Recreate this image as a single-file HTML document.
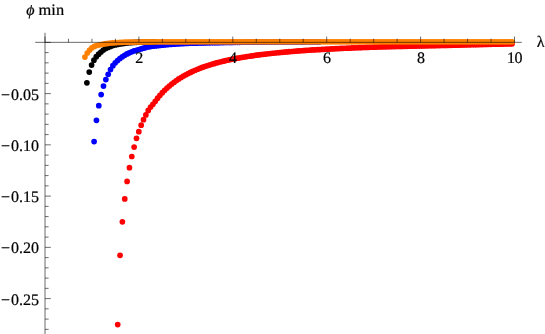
<!DOCTYPE html>
<html><head><meta charset="utf-8"><title>plot</title>
<style>
html,body{margin:0;padding:0;background:#fff;}
body{width:545px;height:334px;overflow:hidden;font-family:"Liberation Serif",serif;}
svg{display:block;position:absolute;left:0;top:0;}
svg.t{will-change:transform;}
</style></head><body>
<svg width="545" height="334" viewBox="0 0 545 334">
<rect width="545" height="334" fill="#fff"/>
<g fill="#ff0000"><circle cx="117.70" cy="324.60" r="2.85"/><circle cx="120.05" cy="255.30" r="2.85"/><circle cx="122.39" cy="221.80" r="2.85"/><circle cx="124.74" cy="198.90" r="2.85"/><circle cx="127.09" cy="181.40" r="2.85"/><circle cx="129.44" cy="167.70" r="2.85"/><circle cx="131.78" cy="156.50" r="2.85"/><circle cx="134.13" cy="147.10" r="2.85"/><circle cx="136.48" cy="138.30" r="2.85"/><circle cx="138.83" cy="131.70" r="2.85"/><circle cx="141.17" cy="125.20" r="2.85"/><circle cx="143.52" cy="119.70" r="2.85"/><circle cx="145.87" cy="114.90" r="2.85"/><circle cx="148.22" cy="110.40" r="2.85"/><circle cx="150.56" cy="107.12" r="2.85"/><circle cx="152.91" cy="104.30" r="2.85"/><circle cx="155.26" cy="101.30" r="2.85"/><circle cx="157.61" cy="98.20" r="2.85"/><circle cx="159.95" cy="95.30" r="2.85"/><circle cx="162.30" cy="92.69" r="2.85"/><circle cx="164.65" cy="90.29" r="2.85"/><circle cx="167.00" cy="88.05" r="2.85"/><circle cx="169.34" cy="85.98" r="2.85"/><circle cx="171.69" cy="84.04" r="2.85"/><circle cx="174.04" cy="82.24" r="2.85"/><circle cx="176.39" cy="80.55" r="2.85"/><circle cx="178.73" cy="78.97" r="2.85"/><circle cx="181.08" cy="77.49" r="2.85"/><circle cx="183.43" cy="76.10" r="2.85"/><circle cx="185.78" cy="74.79" r="2.85"/><circle cx="188.12" cy="73.55" r="2.85"/><circle cx="190.47" cy="72.39" r="2.85"/><circle cx="192.82" cy="71.29" r="2.85"/><circle cx="195.17" cy="70.25" r="2.85"/><circle cx="197.51" cy="69.26" r="2.85"/><circle cx="199.86" cy="68.33" r="2.85"/><circle cx="202.21" cy="67.44" r="2.85"/><circle cx="204.56" cy="66.60" r="2.85"/><circle cx="206.90" cy="65.80" r="2.85"/><circle cx="209.25" cy="65.04" r="2.85"/><circle cx="211.60" cy="64.32" r="2.85"/><circle cx="213.95" cy="63.63" r="2.85"/><circle cx="216.29" cy="62.97" r="2.85"/><circle cx="218.64" cy="62.34" r="2.85"/><circle cx="220.99" cy="61.74" r="2.85"/><circle cx="223.34" cy="61.17" r="2.85"/><circle cx="225.68" cy="60.62" r="2.85"/><circle cx="228.03" cy="60.09" r="2.85"/><circle cx="230.38" cy="59.59" r="2.85"/><circle cx="232.73" cy="59.11" r="2.85"/><circle cx="235.07" cy="58.65" r="2.85"/><circle cx="237.42" cy="58.20" r="2.85"/><circle cx="239.77" cy="57.78" r="2.85"/><circle cx="242.12" cy="57.37" r="2.85"/><circle cx="244.46" cy="56.98" r="2.85"/><circle cx="246.81" cy="56.60" r="2.85"/><circle cx="249.16" cy="56.23" r="2.85"/><circle cx="251.51" cy="55.88" r="2.85"/><circle cx="253.85" cy="55.55" r="2.85"/><circle cx="256.20" cy="55.22" r="2.85"/><circle cx="258.55" cy="54.91" r="2.85"/><circle cx="260.90" cy="54.60" r="2.85"/><circle cx="263.24" cy="54.31" r="2.85"/><circle cx="265.59" cy="54.03" r="2.85"/><circle cx="267.94" cy="53.76" r="2.85"/><circle cx="270.29" cy="53.50" r="2.85"/><circle cx="272.63" cy="53.25" r="2.85"/><circle cx="274.98" cy="53.00" r="2.85"/><circle cx="277.33" cy="52.76" r="2.85"/><circle cx="279.68" cy="52.53" r="2.85"/><circle cx="282.03" cy="52.31" r="2.85"/><circle cx="284.37" cy="52.09" r="2.85"/><circle cx="286.72" cy="51.89" r="2.85"/><circle cx="289.07" cy="51.68" r="2.85"/><circle cx="291.42" cy="51.49" r="2.85"/><circle cx="293.76" cy="51.30" r="2.85"/><circle cx="296.11" cy="51.12" r="2.85"/><circle cx="298.46" cy="50.94" r="2.85"/><circle cx="300.81" cy="50.76" r="2.85"/><circle cx="303.15" cy="50.60" r="2.85"/><circle cx="305.50" cy="50.43" r="2.85"/><circle cx="307.85" cy="50.27" r="2.85"/><circle cx="310.20" cy="50.12" r="2.85"/><circle cx="312.54" cy="49.97" r="2.85"/><circle cx="314.89" cy="49.82" r="2.85"/><circle cx="317.24" cy="49.68" r="2.85"/><circle cx="319.59" cy="49.54" r="2.85"/><circle cx="321.93" cy="49.41" r="2.85"/><circle cx="324.28" cy="49.28" r="2.85"/><circle cx="326.63" cy="49.15" r="2.85"/><circle cx="328.98" cy="49.03" r="2.85"/><circle cx="331.32" cy="48.91" r="2.85"/><circle cx="333.67" cy="48.79" r="2.85"/><circle cx="336.02" cy="48.68" r="2.85"/><circle cx="338.37" cy="48.57" r="2.85"/><circle cx="340.71" cy="48.46" r="2.85"/><circle cx="343.06" cy="48.35" r="2.85"/><circle cx="345.41" cy="48.25" r="2.85"/><circle cx="347.76" cy="48.15" r="2.85"/><circle cx="350.10" cy="48.05" r="2.85"/><circle cx="352.45" cy="47.95" r="2.85"/><circle cx="354.80" cy="47.85" r="2.85"/><circle cx="357.15" cy="47.75" r="2.85"/><circle cx="359.49" cy="47.66" r="2.85"/><circle cx="361.84" cy="47.57" r="2.85"/><circle cx="364.19" cy="47.48" r="2.85"/><circle cx="366.54" cy="47.40" r="2.85"/><circle cx="368.88" cy="47.31" r="2.85"/><circle cx="371.23" cy="47.23" r="2.85"/><circle cx="373.58" cy="47.15" r="2.85"/><circle cx="375.93" cy="47.08" r="2.85"/><circle cx="378.27" cy="47.00" r="2.85"/><circle cx="380.62" cy="46.93" r="2.85"/><circle cx="382.97" cy="46.86" r="2.85"/><circle cx="385.32" cy="46.80" r="2.85"/><circle cx="387.66" cy="46.74" r="2.85"/><circle cx="390.01" cy="46.68" r="2.85"/><circle cx="392.36" cy="46.62" r="2.85"/><circle cx="394.71" cy="46.56" r="2.85"/><circle cx="397.05" cy="46.50" r="2.85"/><circle cx="399.40" cy="46.45" r="2.85"/><circle cx="401.75" cy="46.39" r="2.85"/><circle cx="404.10" cy="46.34" r="2.85"/><circle cx="406.44" cy="46.28" r="2.85"/><circle cx="408.79" cy="46.23" r="2.85"/><circle cx="411.14" cy="46.17" r="2.85"/><circle cx="413.49" cy="46.12" r="2.85"/><circle cx="415.83" cy="46.07" r="2.85"/><circle cx="418.18" cy="46.02" r="2.85"/><circle cx="420.53" cy="45.97" r="2.85"/><circle cx="422.88" cy="45.92" r="2.85"/><circle cx="425.22" cy="45.87" r="2.85"/><circle cx="427.57" cy="45.82" r="2.85"/><circle cx="429.92" cy="45.77" r="2.85"/><circle cx="432.27" cy="45.72" r="2.85"/><circle cx="434.61" cy="45.67" r="2.85"/><circle cx="436.96" cy="45.62" r="2.85"/><circle cx="439.31" cy="45.57" r="2.85"/><circle cx="441.66" cy="45.51" r="2.85"/><circle cx="444.00" cy="45.45" r="2.85"/><circle cx="446.35" cy="45.40" r="2.85"/><circle cx="448.70" cy="45.34" r="2.85"/><circle cx="451.05" cy="45.28" r="2.85"/><circle cx="453.39" cy="45.22" r="2.85"/><circle cx="455.74" cy="45.16" r="2.85"/><circle cx="458.09" cy="45.10" r="2.85"/><circle cx="460.44" cy="45.04" r="2.85"/><circle cx="462.78" cy="44.98" r="2.85"/><circle cx="465.13" cy="44.92" r="2.85"/><circle cx="467.48" cy="44.87" r="2.85"/><circle cx="469.83" cy="44.81" r="2.85"/><circle cx="472.17" cy="44.75" r="2.85"/><circle cx="474.52" cy="44.70" r="2.85"/><circle cx="476.87" cy="44.64" r="2.85"/><circle cx="479.22" cy="44.59" r="2.85"/><circle cx="481.56" cy="44.53" r="2.85"/><circle cx="483.91" cy="44.48" r="2.85"/><circle cx="486.26" cy="44.42" r="2.85"/><circle cx="488.61" cy="44.37" r="2.85"/><circle cx="490.95" cy="44.31" r="2.85"/><circle cx="493.30" cy="44.26" r="2.85"/><circle cx="495.65" cy="44.21" r="2.85"/><circle cx="498.00" cy="44.15" r="2.85"/><circle cx="500.34" cy="44.10" r="2.85"/><circle cx="502.69" cy="44.05" r="2.85"/><circle cx="505.04" cy="44.00" r="2.85"/><circle cx="507.39" cy="43.95" r="2.85"/><circle cx="509.73" cy="43.90" r="2.85"/><circle cx="512.08" cy="43.85" r="2.85"/></g>
<g fill="#0000ff"><circle cx="94.10" cy="141.60" r="2.85"/><circle cx="96.45" cy="120.30" r="2.85"/><circle cx="98.79" cy="105.70" r="2.85"/><circle cx="101.14" cy="94.60" r="2.85"/><circle cx="103.49" cy="86.10" r="2.85"/><circle cx="105.84" cy="79.60" r="2.85"/><circle cx="108.18" cy="74.30" r="2.85"/><circle cx="110.53" cy="69.50" r="2.85"/><circle cx="112.88" cy="65.70" r="2.85"/><circle cx="115.23" cy="62.84" r="2.85"/><circle cx="117.57" cy="60.48" r="2.85"/><circle cx="119.92" cy="58.50" r="2.85"/><circle cx="122.27" cy="56.79" r="2.85"/><circle cx="124.62" cy="55.28" r="2.85"/><circle cx="126.96" cy="53.97" r="2.85"/><circle cx="129.31" cy="52.83" r="2.85"/><circle cx="131.66" cy="51.83" r="2.85"/><circle cx="134.01" cy="50.97" r="2.85"/><circle cx="136.35" cy="50.23" r="2.85"/><circle cx="138.70" cy="49.55" r="2.85"/><circle cx="141.05" cy="48.89" r="2.85"/><circle cx="143.40" cy="48.20" r="2.85"/><circle cx="145.74" cy="47.54" r="2.85"/><circle cx="148.09" cy="46.97" r="2.85"/><circle cx="150.44" cy="46.53" r="2.85"/><circle cx="152.79" cy="46.20" r="2.85"/><circle cx="155.13" cy="45.92" r="2.85"/><circle cx="157.48" cy="45.66" r="2.85"/><circle cx="159.83" cy="45.40" r="2.85"/><circle cx="162.18" cy="45.17" r="2.85"/><circle cx="164.52" cy="44.94" r="2.85"/><circle cx="166.87" cy="44.73" r="2.85"/><circle cx="169.22" cy="44.52" r="2.85"/><circle cx="171.57" cy="44.33" r="2.85"/><circle cx="173.91" cy="44.15" r="2.85"/><circle cx="176.26" cy="43.99" r="2.85"/><circle cx="178.61" cy="43.83" r="2.85"/><circle cx="180.96" cy="43.70" r="2.85"/><circle cx="183.30" cy="43.57" r="2.85"/><circle cx="185.65" cy="43.46" r="2.85"/><circle cx="188.00" cy="43.36" r="2.85"/><circle cx="190.35" cy="43.27" r="2.85"/><circle cx="192.69" cy="43.20" r="2.85"/><circle cx="195.04" cy="43.13" r="2.85"/><circle cx="197.39" cy="43.07" r="2.85"/><circle cx="199.74" cy="43.01" r="2.85"/><circle cx="202.08" cy="42.96" r="2.85"/><circle cx="204.43" cy="42.91" r="2.85"/><circle cx="206.78" cy="42.86" r="2.85"/><circle cx="209.13" cy="42.81" r="2.85"/><circle cx="211.47" cy="42.77" r="2.85"/><circle cx="213.82" cy="42.72" r="2.85"/><circle cx="216.17" cy="42.68" r="2.85"/><circle cx="218.52" cy="42.64" r="2.85"/><circle cx="220.86" cy="42.60" r="2.85"/><circle cx="223.21" cy="42.56" r="2.85"/><circle cx="225.56" cy="42.52" r="2.85"/><circle cx="227.91" cy="42.48" r="2.85"/><circle cx="230.25" cy="42.45" r="2.85"/><circle cx="232.60" cy="42.41" r="2.85"/><circle cx="234.95" cy="42.37" r="2.85"/><circle cx="237.30" cy="42.34" r="2.85"/><circle cx="239.64" cy="42.30" r="2.85"/><circle cx="241.99" cy="42.27" r="2.85"/><circle cx="244.34" cy="42.24" r="2.85"/><circle cx="246.69" cy="42.21" r="2.85"/><circle cx="249.03" cy="42.18" r="2.85"/><circle cx="251.38" cy="42.16" r="2.85"/><circle cx="253.73" cy="42.13" r="2.85"/><circle cx="256.08" cy="42.11" r="2.85"/><circle cx="258.42" cy="42.08" r="2.85"/><circle cx="260.77" cy="42.06" r="2.85"/><circle cx="263.12" cy="42.04" r="2.85"/><circle cx="265.47" cy="42.03" r="2.85"/><circle cx="267.81" cy="42.01" r="2.85"/><circle cx="270.16" cy="42.00" r="2.85"/><circle cx="272.51" cy="41.99" r="2.85"/><circle cx="274.86" cy="41.97" r="2.85"/><circle cx="277.20" cy="41.96" r="2.85"/><circle cx="279.55" cy="41.95" r="2.85"/><circle cx="281.90" cy="41.94" r="2.85"/><circle cx="284.25" cy="41.93" r="2.85"/><circle cx="286.60" cy="41.93" r="2.85"/><circle cx="288.94" cy="41.92" r="2.85"/><circle cx="291.29" cy="41.91" r="2.85"/><circle cx="293.64" cy="41.90" r="2.85"/><circle cx="295.99" cy="41.90" r="2.85"/><circle cx="298.33" cy="41.89" r="2.85"/><circle cx="300.68" cy="41.88" r="2.85"/><circle cx="303.03" cy="41.88" r="2.85"/><circle cx="305.38" cy="41.87" r="2.85"/><circle cx="307.72" cy="41.87" r="2.85"/><circle cx="310.07" cy="41.86" r="2.85"/><circle cx="312.42" cy="41.86" r="2.85"/><circle cx="314.77" cy="41.86" r="2.85"/><circle cx="317.11" cy="41.85" r="2.85"/><circle cx="319.46" cy="41.85" r="2.85"/></g>
<g fill="#000000"><circle cx="86.90" cy="82.80" r="2.85"/><circle cx="89.25" cy="72.10" r="2.85"/><circle cx="91.59" cy="65.10" r="2.85"/><circle cx="93.94" cy="60.20" r="2.85"/><circle cx="96.29" cy="56.70" r="2.85"/><circle cx="98.64" cy="54.20" r="2.85"/><circle cx="100.98" cy="52.01" r="2.85"/><circle cx="103.33" cy="49.98" r="2.85"/><circle cx="105.68" cy="48.51" r="2.85"/><circle cx="108.03" cy="47.39" r="2.85"/><circle cx="110.37" cy="46.40" r="2.85"/><circle cx="112.72" cy="45.57" r="2.85"/><circle cx="115.07" cy="44.93" r="2.85"/><circle cx="117.42" cy="44.42" r="2.85"/><circle cx="119.76" cy="44.00" r="2.85"/><circle cx="122.11" cy="43.63" r="2.85"/><circle cx="124.46" cy="43.29" r="2.85"/><circle cx="126.81" cy="42.97" r="2.85"/><circle cx="129.15" cy="42.71" r="2.85"/><circle cx="131.50" cy="42.53" r="2.85"/><circle cx="133.85" cy="42.40" r="2.85"/><circle cx="136.20" cy="42.30" r="2.85"/><circle cx="138.54" cy="42.22" r="2.85"/><circle cx="140.89" cy="42.16" r="2.85"/><circle cx="143.24" cy="42.10" r="2.85"/><circle cx="145.59" cy="42.06" r="2.85"/><circle cx="147.93" cy="42.03" r="2.85"/><circle cx="150.28" cy="42.00" r="2.85"/><circle cx="152.63" cy="41.97" r="2.85"/><circle cx="154.98" cy="41.95" r="2.85"/></g>
<g fill="#ff8000"><circle cx="84.90" cy="57.10" r="2.85"/><circle cx="87.25" cy="53.00" r="2.85"/><circle cx="89.59" cy="50.10" r="2.85"/><circle cx="91.94" cy="47.80" r="2.85"/><circle cx="94.29" cy="46.38" r="2.85"/><circle cx="96.64" cy="45.52" r="2.85"/><circle cx="98.98" cy="45.01" r="2.85"/><circle cx="101.33" cy="44.51" r="2.85"/><circle cx="103.68" cy="44.04" r="2.85"/><circle cx="106.03" cy="43.63" r="2.85"/><circle cx="108.37" cy="43.29" r="2.85"/><circle cx="110.72" cy="43.02" r="2.85"/><circle cx="113.07" cy="42.81" r="2.85"/><circle cx="115.42" cy="42.64" r="2.85"/><circle cx="117.76" cy="42.50" r="2.85"/><circle cx="120.11" cy="42.39" r="2.85"/><circle cx="122.46" cy="42.30" r="2.85"/><circle cx="124.81" cy="42.22" r="2.85"/><circle cx="127.15" cy="42.16" r="2.85"/><circle cx="129.50" cy="42.11" r="2.85"/><circle cx="131.85" cy="42.07" r="2.85"/><circle cx="134.20" cy="42.03" r="2.85"/><circle cx="136.54" cy="42.01" r="2.85"/><circle cx="138.89" cy="41.98" r="2.85"/><circle cx="141.24" cy="41.96" r="2.85"/><circle cx="143.59" cy="41.94" r="2.85"/><circle cx="145.93" cy="41.92" r="2.85"/><circle cx="148.28" cy="41.91" r="2.85"/><circle cx="150.63" cy="41.89" r="2.85"/><circle cx="152.98" cy="41.88" r="2.85"/><circle cx="155.32" cy="41.87" r="2.85"/><circle cx="157.67" cy="41.86" r="2.85"/><circle cx="160.02" cy="41.85" r="2.85"/><circle cx="162.37" cy="41.84" r="2.85"/><circle cx="164.71" cy="41.83" r="2.85"/><circle cx="167.06" cy="41.82" r="2.85"/><circle cx="169.41" cy="41.81" r="2.85"/><circle cx="171.76" cy="41.81" r="2.85"/><circle cx="174.10" cy="41.80" r="2.85"/><circle cx="176.45" cy="41.79" r="2.85"/><circle cx="178.80" cy="41.79" r="2.85"/><circle cx="181.15" cy="41.78" r="2.85"/><circle cx="183.49" cy="41.78" r="2.85"/><circle cx="185.84" cy="41.78" r="2.85"/><circle cx="188.19" cy="41.78" r="2.85"/><circle cx="190.54" cy="41.77" r="2.85"/><circle cx="192.88" cy="41.77" r="2.85"/><circle cx="195.23" cy="41.77" r="2.85"/><circle cx="197.58" cy="41.77" r="2.85"/><circle cx="199.93" cy="41.77" r="2.85"/><circle cx="202.27" cy="41.77" r="2.85"/><circle cx="204.62" cy="41.77" r="2.85"/><circle cx="206.97" cy="41.77" r="2.85"/><circle cx="209.32" cy="41.77" r="2.85"/><circle cx="211.66" cy="41.77" r="2.85"/><circle cx="214.01" cy="41.77" r="2.85"/><circle cx="216.36" cy="41.77" r="2.85"/><circle cx="218.71" cy="41.77" r="2.85"/><circle cx="221.05" cy="41.77" r="2.85"/><circle cx="223.40" cy="41.77" r="2.85"/><circle cx="225.75" cy="41.77" r="2.85"/><circle cx="228.10" cy="41.77" r="2.85"/><circle cx="230.44" cy="41.77" r="2.85"/><circle cx="232.79" cy="41.77" r="2.85"/><circle cx="235.14" cy="41.77" r="2.85"/><circle cx="237.49" cy="41.77" r="2.85"/><circle cx="239.83" cy="41.77" r="2.85"/><circle cx="242.18" cy="41.77" r="2.85"/><circle cx="244.53" cy="41.77" r="2.85"/><circle cx="246.88" cy="41.77" r="2.85"/><circle cx="249.22" cy="41.77" r="2.85"/><circle cx="251.57" cy="41.77" r="2.85"/><circle cx="253.92" cy="41.77" r="2.85"/><circle cx="256.27" cy="41.77" r="2.85"/><circle cx="258.61" cy="41.77" r="2.85"/><circle cx="260.96" cy="41.77" r="2.85"/><circle cx="263.31" cy="41.77" r="2.85"/><circle cx="265.66" cy="41.77" r="2.85"/><circle cx="268.00" cy="41.77" r="2.85"/><circle cx="270.35" cy="41.77" r="2.85"/><circle cx="272.70" cy="41.77" r="2.85"/><circle cx="275.05" cy="41.77" r="2.85"/><circle cx="277.39" cy="41.77" r="2.85"/><circle cx="279.74" cy="41.77" r="2.85"/><circle cx="282.09" cy="41.77" r="2.85"/><circle cx="284.44" cy="41.77" r="2.85"/><circle cx="286.79" cy="41.77" r="2.85"/><circle cx="289.13" cy="41.77" r="2.85"/><circle cx="291.48" cy="41.77" r="2.85"/><circle cx="293.83" cy="41.77" r="2.85"/><circle cx="296.18" cy="41.77" r="2.85"/><circle cx="298.52" cy="41.77" r="2.85"/><circle cx="300.87" cy="41.77" r="2.85"/><circle cx="303.22" cy="41.77" r="2.85"/><circle cx="305.57" cy="41.77" r="2.85"/><circle cx="307.91" cy="41.77" r="2.85"/><circle cx="310.26" cy="41.77" r="2.85"/><circle cx="312.61" cy="41.77" r="2.85"/><circle cx="314.96" cy="41.77" r="2.85"/><circle cx="317.30" cy="41.77" r="2.85"/><circle cx="319.65" cy="41.77" r="2.85"/><circle cx="322.00" cy="41.77" r="2.85"/><circle cx="324.35" cy="41.77" r="2.85"/><circle cx="326.69" cy="41.77" r="2.85"/><circle cx="329.04" cy="41.77" r="2.85"/><circle cx="331.39" cy="41.77" r="2.85"/><circle cx="333.74" cy="41.77" r="2.85"/><circle cx="336.08" cy="41.77" r="2.85"/><circle cx="338.43" cy="41.77" r="2.85"/><circle cx="340.78" cy="41.77" r="2.85"/><circle cx="343.13" cy="41.77" r="2.85"/><circle cx="345.47" cy="41.77" r="2.85"/><circle cx="347.82" cy="41.77" r="2.85"/><circle cx="350.17" cy="41.77" r="2.85"/><circle cx="352.52" cy="41.77" r="2.85"/><circle cx="354.86" cy="41.77" r="2.85"/><circle cx="357.21" cy="41.77" r="2.85"/><circle cx="359.56" cy="41.77" r="2.85"/><circle cx="361.91" cy="41.77" r="2.85"/><circle cx="364.25" cy="41.77" r="2.85"/><circle cx="366.60" cy="41.77" r="2.85"/><circle cx="368.95" cy="41.77" r="2.85"/><circle cx="371.30" cy="41.77" r="2.85"/><circle cx="373.64" cy="41.77" r="2.85"/><circle cx="375.99" cy="41.77" r="2.85"/><circle cx="378.34" cy="41.77" r="2.85"/><circle cx="380.69" cy="41.77" r="2.85"/><circle cx="383.03" cy="41.77" r="2.85"/><circle cx="385.38" cy="41.77" r="2.85"/><circle cx="387.73" cy="41.77" r="2.85"/><circle cx="390.08" cy="41.77" r="2.85"/><circle cx="392.42" cy="41.77" r="2.85"/><circle cx="394.77" cy="41.77" r="2.85"/><circle cx="397.12" cy="41.77" r="2.85"/><circle cx="399.47" cy="41.77" r="2.85"/><circle cx="401.81" cy="41.77" r="2.85"/><circle cx="404.16" cy="41.77" r="2.85"/><circle cx="406.51" cy="41.77" r="2.85"/><circle cx="408.86" cy="41.77" r="2.85"/><circle cx="411.20" cy="41.77" r="2.85"/><circle cx="413.55" cy="41.77" r="2.85"/><circle cx="415.90" cy="41.77" r="2.85"/><circle cx="418.25" cy="41.77" r="2.85"/><circle cx="420.59" cy="41.77" r="2.85"/><circle cx="422.94" cy="41.77" r="2.85"/><circle cx="425.29" cy="41.77" r="2.85"/><circle cx="427.64" cy="41.77" r="2.85"/><circle cx="429.98" cy="41.77" r="2.85"/><circle cx="432.33" cy="41.77" r="2.85"/><circle cx="434.68" cy="41.77" r="2.85"/><circle cx="437.03" cy="41.77" r="2.85"/><circle cx="439.37" cy="41.77" r="2.85"/><circle cx="441.72" cy="41.77" r="2.85"/><circle cx="444.07" cy="41.77" r="2.85"/><circle cx="446.42" cy="41.77" r="2.85"/><circle cx="448.76" cy="41.77" r="2.85"/><circle cx="451.11" cy="41.77" r="2.85"/><circle cx="453.46" cy="41.77" r="2.85"/><circle cx="455.81" cy="41.77" r="2.85"/><circle cx="458.15" cy="41.77" r="2.85"/><circle cx="460.50" cy="41.77" r="2.85"/><circle cx="462.85" cy="41.77" r="2.85"/><circle cx="465.20" cy="41.77" r="2.85"/><circle cx="467.54" cy="41.77" r="2.85"/><circle cx="469.89" cy="41.77" r="2.85"/><circle cx="472.24" cy="41.77" r="2.85"/><circle cx="474.59" cy="41.77" r="2.85"/><circle cx="476.93" cy="41.77" r="2.85"/><circle cx="479.28" cy="41.77" r="2.85"/><circle cx="481.63" cy="41.77" r="2.85"/><circle cx="483.98" cy="41.77" r="2.85"/><circle cx="486.32" cy="41.77" r="2.85"/><circle cx="488.67" cy="41.77" r="2.85"/><circle cx="491.02" cy="41.77" r="2.85"/><circle cx="493.37" cy="41.77" r="2.85"/><circle cx="495.71" cy="41.77" r="2.85"/><circle cx="498.06" cy="41.77" r="2.85"/><circle cx="500.41" cy="41.77" r="2.85"/><circle cx="502.76" cy="41.77" r="2.85"/><circle cx="505.10" cy="41.77" r="2.85"/><circle cx="507.45" cy="41.77" r="2.85"/><circle cx="509.80" cy="41.77" r="2.85"/><circle cx="512.15" cy="41.77" r="2.85"/></g>
<line x1="35.2" y1="42.35" x2="521.8" y2="42.35" stroke="#000" stroke-opacity="0.58" stroke-width="1"/><line x1="45.00" y1="32.8" x2="45.00" y2="334" stroke="#000" stroke-opacity="0.58" stroke-width="1"/><line x1="45.00" y1="42.35" x2="45.00" y2="36.55" stroke="#000" stroke-opacity="0.72" stroke-width="0.8"/><line x1="68.47" y1="42.35" x2="68.47" y2="38.75" stroke="#000" stroke-opacity="0.72" stroke-width="0.8"/><line x1="91.95" y1="42.35" x2="91.95" y2="38.75" stroke="#000" stroke-opacity="0.72" stroke-width="0.8"/><line x1="115.43" y1="42.35" x2="115.43" y2="38.75" stroke="#000" stroke-opacity="0.72" stroke-width="0.8"/><line x1="138.90" y1="42.35" x2="138.90" y2="36.55" stroke="#000" stroke-opacity="0.72" stroke-width="0.8"/><line x1="162.38" y1="42.35" x2="162.38" y2="38.75" stroke="#000" stroke-opacity="0.72" stroke-width="0.8"/><line x1="185.85" y1="42.35" x2="185.85" y2="38.75" stroke="#000" stroke-opacity="0.72" stroke-width="0.8"/><line x1="209.33" y1="42.35" x2="209.33" y2="38.75" stroke="#000" stroke-opacity="0.72" stroke-width="0.8"/><line x1="232.80" y1="42.35" x2="232.80" y2="36.55" stroke="#000" stroke-opacity="0.72" stroke-width="0.8"/><line x1="256.27" y1="42.35" x2="256.27" y2="38.75" stroke="#000" stroke-opacity="0.72" stroke-width="0.8"/><line x1="279.75" y1="42.35" x2="279.75" y2="38.75" stroke="#000" stroke-opacity="0.72" stroke-width="0.8"/><line x1="303.23" y1="42.35" x2="303.23" y2="38.75" stroke="#000" stroke-opacity="0.72" stroke-width="0.8"/><line x1="326.70" y1="42.35" x2="326.70" y2="36.55" stroke="#000" stroke-opacity="0.72" stroke-width="0.8"/><line x1="350.18" y1="42.35" x2="350.18" y2="38.75" stroke="#000" stroke-opacity="0.72" stroke-width="0.8"/><line x1="373.65" y1="42.35" x2="373.65" y2="38.75" stroke="#000" stroke-opacity="0.72" stroke-width="0.8"/><line x1="397.12" y1="42.35" x2="397.12" y2="38.75" stroke="#000" stroke-opacity="0.72" stroke-width="0.8"/><line x1="420.60" y1="42.35" x2="420.60" y2="36.55" stroke="#000" stroke-opacity="0.72" stroke-width="0.8"/><line x1="444.08" y1="42.35" x2="444.08" y2="38.75" stroke="#000" stroke-opacity="0.72" stroke-width="0.8"/><line x1="467.55" y1="42.35" x2="467.55" y2="38.75" stroke="#000" stroke-opacity="0.72" stroke-width="0.8"/><line x1="491.03" y1="42.35" x2="491.03" y2="38.75" stroke="#000" stroke-opacity="0.72" stroke-width="0.8"/><line x1="514.50" y1="42.35" x2="514.50" y2="36.55" stroke="#000" stroke-opacity="0.72" stroke-width="0.8"/><line x1="45.00" y1="42.35" x2="50.80" y2="42.35" stroke="#000" stroke-opacity="0.72" stroke-width="0.8"/><line x1="45.00" y1="52.60" x2="48.60" y2="52.60" stroke="#000" stroke-opacity="0.72" stroke-width="0.8"/><line x1="45.00" y1="62.85" x2="48.60" y2="62.85" stroke="#000" stroke-opacity="0.72" stroke-width="0.8"/><line x1="45.00" y1="73.10" x2="48.60" y2="73.10" stroke="#000" stroke-opacity="0.72" stroke-width="0.8"/><line x1="45.00" y1="83.35" x2="48.60" y2="83.35" stroke="#000" stroke-opacity="0.72" stroke-width="0.8"/><line x1="45.00" y1="93.60" x2="50.80" y2="93.60" stroke="#000" stroke-opacity="0.72" stroke-width="0.8"/><line x1="45.00" y1="103.85" x2="48.60" y2="103.85" stroke="#000" stroke-opacity="0.72" stroke-width="0.8"/><line x1="45.00" y1="114.10" x2="48.60" y2="114.10" stroke="#000" stroke-opacity="0.72" stroke-width="0.8"/><line x1="45.00" y1="124.35" x2="48.60" y2="124.35" stroke="#000" stroke-opacity="0.72" stroke-width="0.8"/><line x1="45.00" y1="134.60" x2="48.60" y2="134.60" stroke="#000" stroke-opacity="0.72" stroke-width="0.8"/><line x1="45.00" y1="144.85" x2="50.80" y2="144.85" stroke="#000" stroke-opacity="0.72" stroke-width="0.8"/><line x1="45.00" y1="155.10" x2="48.60" y2="155.10" stroke="#000" stroke-opacity="0.72" stroke-width="0.8"/><line x1="45.00" y1="165.35" x2="48.60" y2="165.35" stroke="#000" stroke-opacity="0.72" stroke-width="0.8"/><line x1="45.00" y1="175.60" x2="48.60" y2="175.60" stroke="#000" stroke-opacity="0.72" stroke-width="0.8"/><line x1="45.00" y1="185.85" x2="48.60" y2="185.85" stroke="#000" stroke-opacity="0.72" stroke-width="0.8"/><line x1="45.00" y1="196.10" x2="50.80" y2="196.10" stroke="#000" stroke-opacity="0.72" stroke-width="0.8"/><line x1="45.00" y1="206.35" x2="48.60" y2="206.35" stroke="#000" stroke-opacity="0.72" stroke-width="0.8"/><line x1="45.00" y1="216.60" x2="48.60" y2="216.60" stroke="#000" stroke-opacity="0.72" stroke-width="0.8"/><line x1="45.00" y1="226.85" x2="48.60" y2="226.85" stroke="#000" stroke-opacity="0.72" stroke-width="0.8"/><line x1="45.00" y1="237.10" x2="48.60" y2="237.10" stroke="#000" stroke-opacity="0.72" stroke-width="0.8"/><line x1="45.00" y1="247.35" x2="50.80" y2="247.35" stroke="#000" stroke-opacity="0.72" stroke-width="0.8"/><line x1="45.00" y1="257.60" x2="48.60" y2="257.60" stroke="#000" stroke-opacity="0.72" stroke-width="0.8"/><line x1="45.00" y1="267.85" x2="48.60" y2="267.85" stroke="#000" stroke-opacity="0.72" stroke-width="0.8"/><line x1="45.00" y1="278.10" x2="48.60" y2="278.10" stroke="#000" stroke-opacity="0.72" stroke-width="0.8"/><line x1="45.00" y1="288.35" x2="48.60" y2="288.35" stroke="#000" stroke-opacity="0.72" stroke-width="0.8"/><line x1="45.00" y1="298.60" x2="50.80" y2="298.60" stroke="#000" stroke-opacity="0.72" stroke-width="0.8"/><line x1="45.00" y1="308.85" x2="48.60" y2="308.85" stroke="#000" stroke-opacity="0.72" stroke-width="0.8"/><line x1="45.00" y1="319.10" x2="48.60" y2="319.10" stroke="#000" stroke-opacity="0.72" stroke-width="0.8"/><line x1="45.00" y1="329.35" x2="48.60" y2="329.35" stroke="#000" stroke-opacity="0.72" stroke-width="0.8"/>
</svg>
<svg class="t" width="545" height="334" viewBox="0 0 545 334">
<g font-family="'Liberation Serif', serif" font-size="16px" fill="#000" stroke="#000" stroke-width="0.22" text-rendering="geometricPrecision"><text x="139.20" y="62.6" text-anchor="middle">2</text><text x="233.10" y="62.6" text-anchor="middle">4</text><text x="327.00" y="62.6" text-anchor="middle">6</text><text x="420.90" y="62.6" text-anchor="middle">8</text><text x="507.00 514.60" y="62.6">10</text><text x="1.0 11.0 19.0 23.0 31.0" y="99.70">−0.05</text><text x="1.0 11.0 19.0 23.0 31.0" y="150.95">−0.10</text><text x="1.0 11.0 19.0 23.0 31.0" y="202.20">−0.15</text><text x="1.0 11.0 19.0 23.0 31.0" y="253.45">−0.20</text><text x="1.0 11.0 19.0 23.0 31.0" y="304.70">−0.25</text><text x="536.8" y="47.3">λ</text><clipPath id="pc"><path d="M20 4.9H37V0H70V21H20Z"/></clipPath><text y="14.8" clip-path="url(#pc)"><tspan x="26.2" font-style="italic">ϕ</tspan><tspan x="34.5" textLength="29.6" lengthAdjust="spacingAndGlyphs"> min</tspan></text></g>
</svg>
</body></html>
